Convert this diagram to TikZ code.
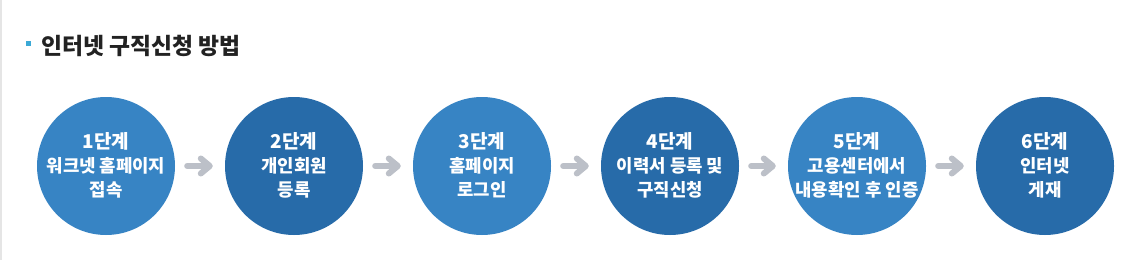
\documentclass[tikz,border=0pt]{standalone}
\usepackage{fontspec}
\newfontfamily\kr{Noto Sans CJK KR}
\usetikzlibrary{arrows.meta}
\definecolor{stepA}{HTML}{3784C4}
\definecolor{stepB}{HTML}{276BA9}
\definecolor{arrowgray}{HTML}{BCC0C8}
\definecolor{bullet}{HTML}{3BA9D6}
\definecolor{titlecol}{HTML}{222222}
\tikzset{
  stepcircle/.style={circle, minimum size=138pt, inner sep=0pt, draw=none},
  lightstep/.style={stepcircle, fill=stepA},
  darkstep/.style={stepcircle, fill=stepB},
  steptext/.style={text=white, align=center, inner sep=0pt, font=\kr\bfseries\fontsize{17.8}{24}\selectfont},
  flowarrow/.style={draw=arrowgray, line width=6pt, line cap=round, shorten <=12pt, shorten >=12pt,
    -{Straight Barb[length=9pt,width=15pt,round]}},
}
\newcommand{\stephead}[1]{{\fontsize{19}{26}\selectfont #1}}
\begin{document}
\begin{tikzpicture}[x=1pt,y=-1pt]
\useasboundingbox (0,0) rectangle (1148,260);
\fill[white] (0,0) rectangle (1148,260);
\draw[gray!20, line width=1.5pt] (0.75,0) -- (0.75,260);
% title
\fill[bullet] (26,41) rectangle (31,46);
\node[anchor=west, inner sep=0pt, text=titlecol, font=\kr\bfseries\fontsize{22.8}{26}\selectfont] (title) at (41,46) {인터넷 구직신청 방법};
% circles
\node[lightstep] (c1) at (106,166) {};
\node[darkstep]  (c2) at (294,166) {};
\node[lightstep] (c3) at (482,166) {};
\node[darkstep]  (c4) at (670,166) {};
\node[lightstep] (c5) at (857,166) {};
\node[darkstep]  (c6) at (1045,166) {};
% texts
\node[steptext] (t1) at (106,165) {\stephead{1단계}\\워크넷 홈페이지\\접속};
\node[steptext] (t2) at (294,165) {\stephead{2단계}\\개인회원\\등록};
\node[steptext] (t3) at (482,165) {\stephead{3단계}\\홈페이지\\로그인};
\node[steptext] (t4) at (670,165) {\stephead{4단계}\\이력서 등록 및\\구직신청};
\node[steptext] (t5) at (857,165) {\stephead{5단계}\\고용센터에서\\내용확인 후 인증};
\node[steptext] (t6) at (1045,165) {\stephead{6단계}\\인터넷\\게재};
% arrows
\draw[flowarrow] (c1) -- (c2);
\draw[flowarrow] (c2) -- (c3);
\draw[flowarrow] (c3) -- (c4);
\draw[flowarrow] (c4) -- (c5);
\draw[flowarrow] (c5) -- (c6);
\end{tikzpicture}
\end{document}
